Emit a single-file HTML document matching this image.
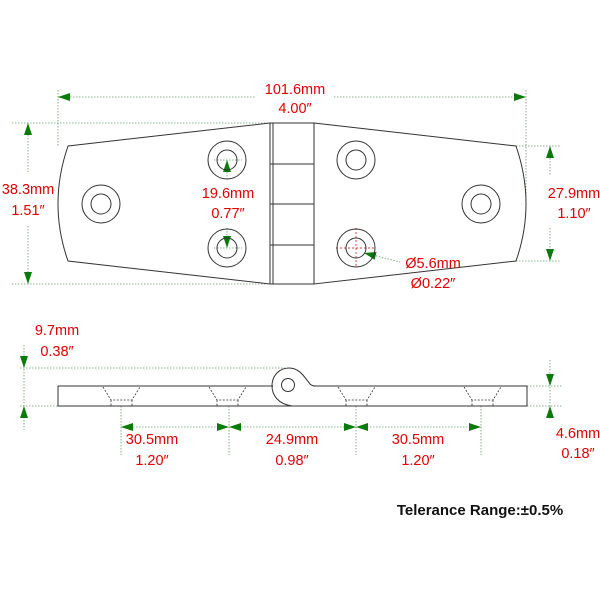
<!DOCTYPE html>
<html><head><meta charset="utf-8"><style>
body{margin:0;background:#fff}
svg text{font-family:"Liberation Sans","DejaVu Sans",sans-serif;font-size:14.5px;fill:#e00000;text-anchor:middle}
</style></head><body>
<svg width="600" height="600" viewBox="0 0 600 600" xmlns="http://www.w3.org/2000/svg">
<defs>
<marker id="a" markerWidth="12" markerHeight="8" refX="12" refY="4" orient="auto-start-reverse" markerUnits="userSpaceOnUse"><path d="M0,0 L12,4 L0,8 z" fill="#0a7a0a"/></marker>
</defs>
<g stroke="#6a9a6a" stroke-width="0.8" stroke-dasharray="1.5,1.5" fill="none">
<line x1="58" y1="90" x2="58" y2="146"/><line x1="526" y1="90" x2="526" y2="204"/>
<line x1="58" y1="97" x2="256" y2="97"/><line x1="334" y1="97" x2="526" y2="97"/>
<line x1="12" y1="123" x2="270" y2="123"/><line x1="12" y1="284" x2="270" y2="284"/>
<line x1="28" y1="123" x2="28" y2="172"/><line x1="28" y1="226" x2="28" y2="284"/>
<line x1="516" y1="146" x2="560" y2="146"/><line x1="516" y1="261" x2="560" y2="261"/>
<line x1="550" y1="146" x2="550" y2="176"/><line x1="550" y1="228" x2="550" y2="261"/>
<line x1="227" y1="160" x2="227" y2="180"/><line x1="227" y1="228" x2="227" y2="248"/>
<line x1="214" y1="160" x2="242" y2="160"/><line x1="214" y1="248" x2="242" y2="248"/>
<line x1="373" y1="255" x2="400" y2="262"/>
<line x1="20" y1="368" x2="285" y2="368"/><line x1="20" y1="406" x2="58" y2="406"/>
<line x1="24" y1="345" x2="24" y2="430"/>
<line x1="527" y1="386" x2="562" y2="386"/><line x1="527" y1="406" x2="562" y2="406"/>
<line x1="550" y1="360" x2="550" y2="420"/>
<line x1="121" y1="406" x2="121" y2="455"/><line x1="229" y1="406" x2="229" y2="455"/>
<line x1="356" y1="406" x2="356" y2="455"/><line x1="481" y1="406" x2="481" y2="455"/>
<line x1="121" y1="427" x2="481" y2="427"/>
</g>
<g stroke="#c00" stroke-width="0.7" stroke-dasharray="2,2" fill="none">
<line x1="356" y1="228" x2="356" y2="268"/><line x1="336" y1="248" x2="376" y2="248"/>
</g>
<g stroke="none" fill="none">
<line x1="200" y1="97" x2="58" y2="97" marker-end="url(#a)"/>
<line x1="400" y1="97" x2="526" y2="97" marker-end="url(#a)"/>
<line x1="28" y1="170" x2="28" y2="123" marker-end="url(#a)"/>
<line x1="28" y1="230" x2="28" y2="284" marker-end="url(#a)"/>
<line x1="550" y1="176" x2="550" y2="146" marker-end="url(#a)"/>
<line x1="550" y1="228" x2="550" y2="261" marker-end="url(#a)"/>
<line x1="227" y1="175" x2="227" y2="160" marker-end="url(#a)"/>
<line x1="227" y1="232" x2="227" y2="248" marker-end="url(#a)"/>
<line x1="380" y1="257" x2="364" y2="253" marker-end="url(#a)"/>
<line x1="24" y1="345" x2="24" y2="368" marker-end="url(#a)"/>
<line x1="24" y1="430" x2="24" y2="406" marker-end="url(#a)"/>
<line x1="550" y1="360" x2="550" y2="386" marker-end="url(#a)"/>
<line x1="550" y1="430" x2="550" y2="406" marker-end="url(#a)"/>
<line x1="175" y1="427" x2="121" y2="427" marker-end="url(#a)"/>
<line x1="175" y1="427" x2="229" y2="427" marker-end="url(#a)"/>
<line x1="292" y1="427" x2="229" y2="427" marker-end="url(#a)"/>
<line x1="292" y1="427" x2="356" y2="427" marker-end="url(#a)"/>
<line x1="418" y1="427" x2="356" y2="427" marker-end="url(#a)"/>
<line x1="418" y1="427" x2="481" y2="427" marker-end="url(#a)"/>
</g>
<g stroke="#333" stroke-width="1" fill="none">
<path d="M68,146 L270,123 L270,284 L68,261 Q48,204 68,146 Z"/>
<path d="M314,123 L516,146 Q536,204 516,261 L314,284 Z"/>
<rect x="270" y="123" width="44" height="161"/>
<line x1="273" y1="123" x2="273" y2="284"/>
<line x1="270" y1="164" x2="314" y2="164"/><line x1="270" y1="204" x2="314" y2="204"/><line x1="270" y1="245" x2="314" y2="245"/>
<circle cx="101" cy="204" r="19"/><circle cx="101" cy="204" r="10"/>
<circle cx="227" cy="160" r="19"/><circle cx="227" cy="160" r="10"/>
<circle cx="227" cy="248" r="19"/><circle cx="227" cy="248" r="10"/>
<circle cx="356" cy="160" r="19"/><circle cx="356" cy="160" r="10"/>
<circle cx="356" cy="248" r="19"/><circle cx="356" cy="248" r="10"/>
<circle cx="481" cy="204" r="19"/><circle cx="481" cy="204" r="10"/>
<path d="M58,386 L273,386 M58,386 L58,406 L292,406 M313,386 L527,386 L527,406 L292,406"/>
<path d="M292,406 C278,404 272,395 272,386 C272,375 280,368 289,368 C300,368 305,378 310,384 C312,386 314,386 318,386"/>
<circle cx="288" cy="385" r="6.5"/>
</g>
<g stroke="#333" stroke-width="0.8" stroke-dasharray="2,1.5" fill="none">
<path d="M103,387 L111,400 L132,400 L140,387 M111,400 L111,406 M132,400 L132,406"/>
<path d="M209,387 L217,400 L238,400 L246,387 M217,400 L217,406 M238,400 L238,406"/>
<path d="M338,387 L346,400 L367,400 L375,387 M346,400 L346,406 M367,400 L367,406"/>
<path d="M464,387 L472,400 L493,400 L501,387 M472,400 L472,406 M493,400 L493,406"/>
</g>
<text x="295" y="94">101.6mm</text><text x="295" y="113">4.00″</text>
<text x="28" y="194">38.3mm</text><text x="28" y="215">1.51″</text>
<text x="228" y="198">19.6mm</text><text x="228" y="218">0.77″</text>
<text x="574" y="198">27.9mm</text><text x="574" y="218">1.10″</text>
<text x="433" y="268">Ø5.6mm</text><text x="433" y="288">Ø0.22″</text>
<text x="57" y="335">9.7mm</text><text x="57" y="356">0.38″</text>
<text x="152" y="444">30.5mm</text><text x="152" y="465">1.20″</text>
<text x="292" y="444">24.9mm</text><text x="292" y="465">0.98″</text>
<text x="418" y="444">30.5mm</text><text x="418" y="465">1.20″</text>
<text x="578" y="438">4.6mm</text><text x="578" y="458">0.18″</text>
<text x="480" y="515" style="fill:#111;font-weight:bold;font-size:15px">Telerance Range:±0.5%</text>
</svg>
</body></html>
